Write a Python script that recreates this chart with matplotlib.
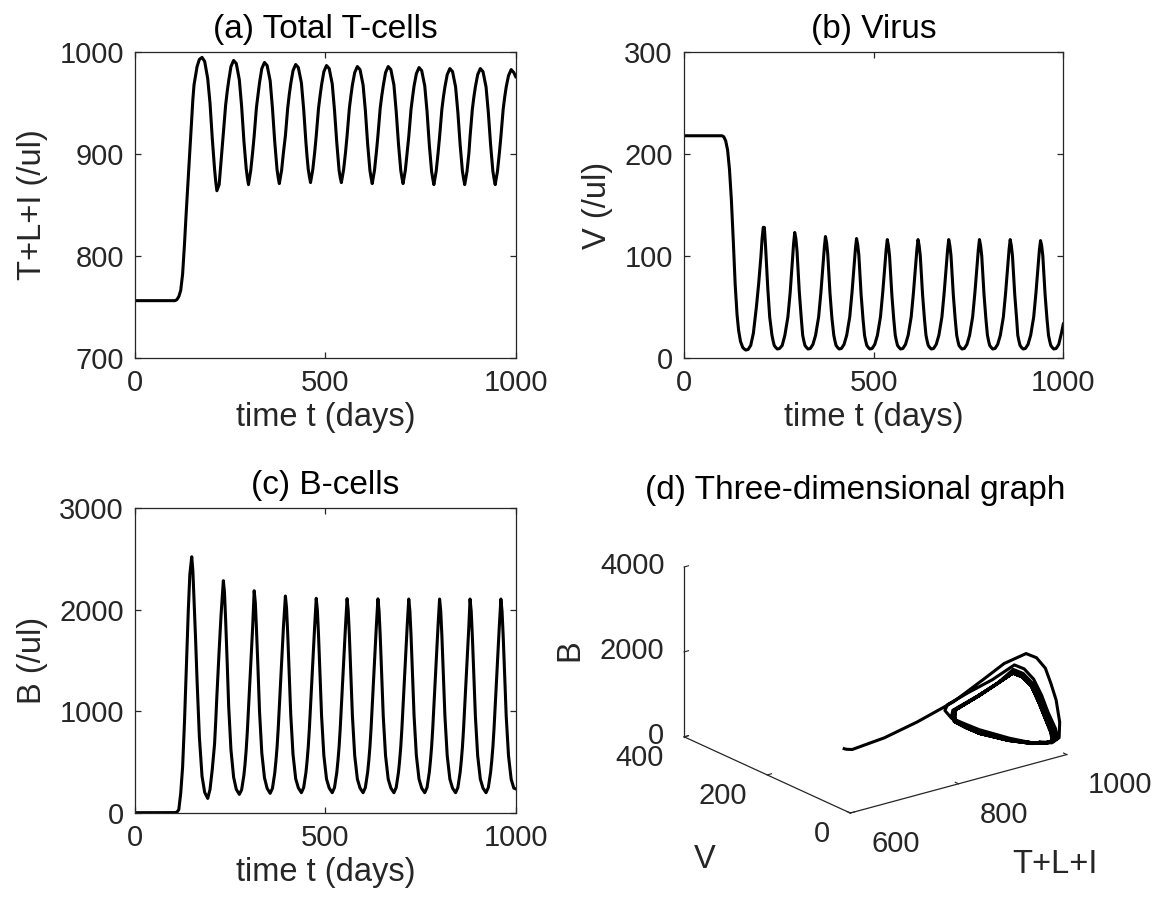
import numpy as np
import matplotlib.pyplot as plt

plt.rcParams['font.family'] = ['Liberation Sans', 'DejaVu Sans']

# time grid (days), one row per oscillation cycle after the initial plateau
t_days = [0, 50, 100, 105, 110, 115, 120, 125, 130, 135, 140, 144,
          149, 152, 155, 159, 163, 169, 176, 183, 191, 197, 203, 206, 209, 212, 215, 221, 226,
          232, 235, 238, 242, 246, 252, 259, 266, 274, 280, 286, 289, 292, 295, 298, 304, 309,
          313, 316, 319, 323, 327, 333, 340, 347, 355, 361, 367, 370, 373, 376, 379, 385, 390,
          395, 398, 401, 405, 409, 415, 422, 429, 437, 443, 449, 452, 455, 458, 461, 467, 472,
          476, 479, 482, 486, 490, 496, 503, 510, 518, 524, 530, 533, 536, 539, 542, 548, 553,
          557, 560, 563, 567, 571, 577, 584, 591, 599, 605, 611, 614, 617, 620, 623, 629, 634,
          638, 641, 644, 648, 652, 658, 665, 672, 680, 686, 692, 695, 698, 701, 704, 710, 715,
          719, 722, 725, 729, 733, 739, 746, 753, 761, 767, 773, 776, 779, 782, 785, 791, 796,
          800, 803, 806, 810, 814, 820, 827, 834, 842, 848, 854, 857, 860, 863, 866, 872, 877,
          880, 883, 886, 890, 894, 900, 907, 914, 922, 928, 934, 937, 940, 943, 946, 952, 957,
          961, 964, 967, 971, 975, 981, 988, 995, 1000]

# total T-cells T+L+I (/ul)
T_total = [756, 756, 756, 756, 757, 760, 766, 782, 812, 846, 878, 905,
           937, 954, 968, 977, 986, 993, 995, 991, 974, 950, 915, 900, 885, 873, 864, 870, 893,
           920, 934, 948, 961, 972, 986, 992, 989, 973, 947, 913, 899, 886, 877, 870, 884, 902,
           918, 932, 946, 958, 970, 984, 990, 987, 972, 945, 912, 898, 885, 877, 871, 884, 902,
           918, 932, 945, 958, 969, 982, 988, 985, 970, 944, 911, 897, 885, 878, 872, 885, 902,
           918, 932, 945, 957, 968, 981, 987, 984, 969, 943, 911, 897, 884, 877, 872, 885, 902,
           918, 932, 945, 957, 968, 980, 986, 983, 968, 943, 910, 897, 884, 877, 871, 884, 902,
           918, 932, 945, 957, 967, 980, 986, 983, 968, 942, 910, 897, 884, 877, 871, 884, 902,
           917, 931, 944, 956, 967, 979, 985, 982, 967, 942, 909, 896, 883, 876, 870, 883, 901,
           917, 931, 944, 956, 966, 978, 984, 981, 966, 941, 909, 896, 883, 876, 870, 883, 901,
           917, 931, 944, 956, 966, 978, 984, 981, 966, 941, 909, 896, 883, 876, 870, 883, 901,
           917, 931, 944, 956, 966, 977, 983, 980, 976]

# virus V (/ul)
V_virus = [218, 218, 218, 217, 213, 204, 185, 155, 115, 72, 42, 27,
           16, 13, 10, 8.5, 7.5, 8, 12, 24, 50, 73, 100, 117, 128, 128, 110, 68, 40,
           22, 16.5, 12, 10, 8.5, 9, 12, 22, 40, 64, 95, 112, 123, 117, 105, 65, 40,
           22, 16.5, 12, 10, 8.5, 9, 13, 22, 40, 64, 93, 108, 119, 113, 102, 63, 39,
           22, 16.5, 12, 10, 8.5, 9, 13, 22, 40, 64, 92, 107, 117, 111, 101, 62, 38,
           22, 16.5, 12, 10, 8.5, 9, 13, 22, 40, 64, 92, 106, 116, 110, 100, 62, 38,
           22, 16.5, 12, 10, 8.5, 9, 13, 22, 40, 64, 92, 106, 116, 110, 100, 62, 38,
           22, 16.5, 12, 10, 8.5, 9, 13, 22, 40, 64, 92, 106, 116, 110, 100, 62, 38,
           22, 16.5, 12, 10, 8.5, 9, 13, 22, 40, 64, 92, 106, 116, 110, 100, 62, 38,
           22, 16.5, 12, 10, 8.5, 9, 13, 22, 40, 64, 92, 106, 116, 110, 100, 62, 38,
           22, 16.5, 12, 10, 8.5, 9, 13, 22, 40, 64, 92, 106, 115, 110, 100, 62, 38,
           22, 16.5, 12, 10, 8.5, 9, 13, 24, 33]

# B-cells (/ul)
B_cells = [0, 0, 0, 1, 5, 30, 190, 450, 900, 1450, 2000, 2350,
           2523, 2380, 2100, 1720, 1300, 750, 360, 200, 141, 230, 430, 550, 680, 900, 1150, 1600, 1950,
           2287, 2170, 1900, 1490, 1050, 620, 350, 230, 181, 225, 370, 480, 620, 800, 1020, 1480, 1830,
           2188, 2070, 1810, 1420, 1000, 590, 345, 240, 191, 240, 390, 505, 640, 820, 1040, 1490, 1840,
           2136, 2018, 1770, 1360, 970, 575, 335, 245, 197, 248, 398, 512, 648, 830, 1048, 1498, 1848,
           2113, 1995, 1750, 1340, 955, 565, 332, 243, 197, 248, 398, 512, 648, 830, 1048, 1498, 1848,
           2110, 1992, 1750, 1340, 955, 565, 332, 243, 197, 248, 398, 512, 648, 830, 1048, 1498, 1848,
           2108, 1990, 1748, 1338, 953, 564, 331, 243, 197, 248, 398, 512, 648, 830, 1048, 1498, 1848,
           2106, 1988, 1746, 1336, 952, 563, 331, 242, 197, 248, 398, 512, 648, 830, 1048, 1498, 1848,
           2106, 1988, 1746, 1336, 952, 563, 331, 242, 197, 248, 398, 512, 648, 830, 1048, 1498, 1848,
           2106, 1988, 1746, 1336, 952, 563, 331, 242, 197, 248, 398, 512, 648, 830, 1048, 1498, 1848,
           2106, 1988, 1745, 1335, 950, 562, 330, 242, 235]

axis_col = '#262626'
tick_fs = 21
label_fs = 23.5
title_fs = 24

fig = plt.figure(figsize=(11.53, 9.11), dpi=100)


def style2d(ax, y, ylim, yticks, ylabel, title):
    ax.plot(t_days, y, color='k', lw=2.2)
    ax.set_xlim(0, 1000)
    ax.set_ylim(*ylim)
    ax.set_xticks([0, 500, 1000])
    ax.set_yticks(yticks)
    ax.tick_params(direction='in', top=True, right=True, length=4, width=0.9,
                   labelsize=tick_fs, colors=axis_col, pad=8)
    for s in ax.spines.values():
        s.set_color(axis_col)
        s.set_linewidth(0.9)
    ax.set_xlabel('time t (days)', fontsize=label_fs, color=axis_col, labelpad=4)
    ax.set_ylabel(ylabel, fontsize=label_fs, color=axis_col, labelpad=8)
    ax.set_title(title, fontsize=title_fs, color='k', pad=10)


ax_a = fig.add_axes([0.1171, 0.6074, 0.3302, 0.3352])
style2d(ax_a, T_total, (700, 1000), [700, 800, 900, 1000], 'T+L+I (/ul)', '(a) Total T-cells')

ax_b = fig.add_axes([0.5932, 0.6074, 0.3290, 0.3352])
style2d(ax_b, V_virus, (0, 300), [0, 100, 200, 300], 'V (/ul)', '(b) Virus')

ax_c = fig.add_axes([0.1171, 0.1079, 0.3302, 0.3341])
style2d(ax_c, B_cells, (0, 3000), [0, 1000, 2000, 3000], 'B (/ul)', '(c) B-cells')

# (d) trajectory in (T+L+I, V, B) space
ax_d = fig.add_axes([0.5749, 0.0413, 0.3591, 0.4545], projection='3d')
ax_d.set_proj_type('ortho')
ax_d.view_init(elev=20.6, azim=-127.5)
ax_d.set_box_aspect((1, 1, 0.665))
ax_d.plot(T_total, V_virus, B_cells, color='k', lw=2.2)
ax_d.set_xlim(600, 1000)
ax_d.set_ylim(0, 400)
ax_d.set_zlim(0, 4000)
ax_d.set_xticks([600, 800, 1000])
ax_d.set_yticks([0, 200, 400])
ax_d.set_zticks([0, 2000, 4000])
ax_d.grid(False)
for axis in (ax_d.xaxis, ax_d.yaxis, ax_d.zaxis):
    axis.set_pane_color((1, 1, 1, 0))
    axis.pane.set_edgecolor((1, 1, 1, 0))
    axis.line.set_color(axis_col)
    axis.line.set_linewidth(0.9)
    axis._axinfo['tick']['inward_factor'] = 0.0
    axis._axinfo['tick']['outward_factor'] = 0.25
    axis._axinfo['tick']['color'] = axis_col
ax_d.tick_params(labelsize=tick_fs, colors=axis_col)
ax_d.xaxis.set_tick_params(pad=11.5)
ax_d.yaxis.set_tick_params(pad=6.5)
ax_d.zaxis.set_tick_params(pad=0)
plt.setp(ax_d.xaxis.get_majorticklabels(), ha='left', va='center')
plt.setp(ax_d.yaxis.get_majorticklabels(), ha='right', va='center')
plt.setp(ax_d.zaxis.get_majorticklabels(), ha='right', va='center')
ax_d.text2D(0.915, 0.0505, 'T+L+I', transform=fig.transFigure, fontsize=label_fs,
            color=axis_col, ha='center', va='center')
ax_d.text2D(0.6113, 0.056, 'V', transform=fig.transFigure, fontsize=label_fs,
            color=axis_col, ha='center', va='center')
ax_d.text2D(0.4939, 0.2865, 'B', transform=fig.transFigure, fontsize=label_fs,
            color=axis_col, ha='center', va='center', rotation=90)
fig.text(0.7415, 0.462, '(d) Three-dimensional graph', fontsize=title_fs,
         color='k', ha='center', va='center')

fig.savefig('out.png', dpi=100)
